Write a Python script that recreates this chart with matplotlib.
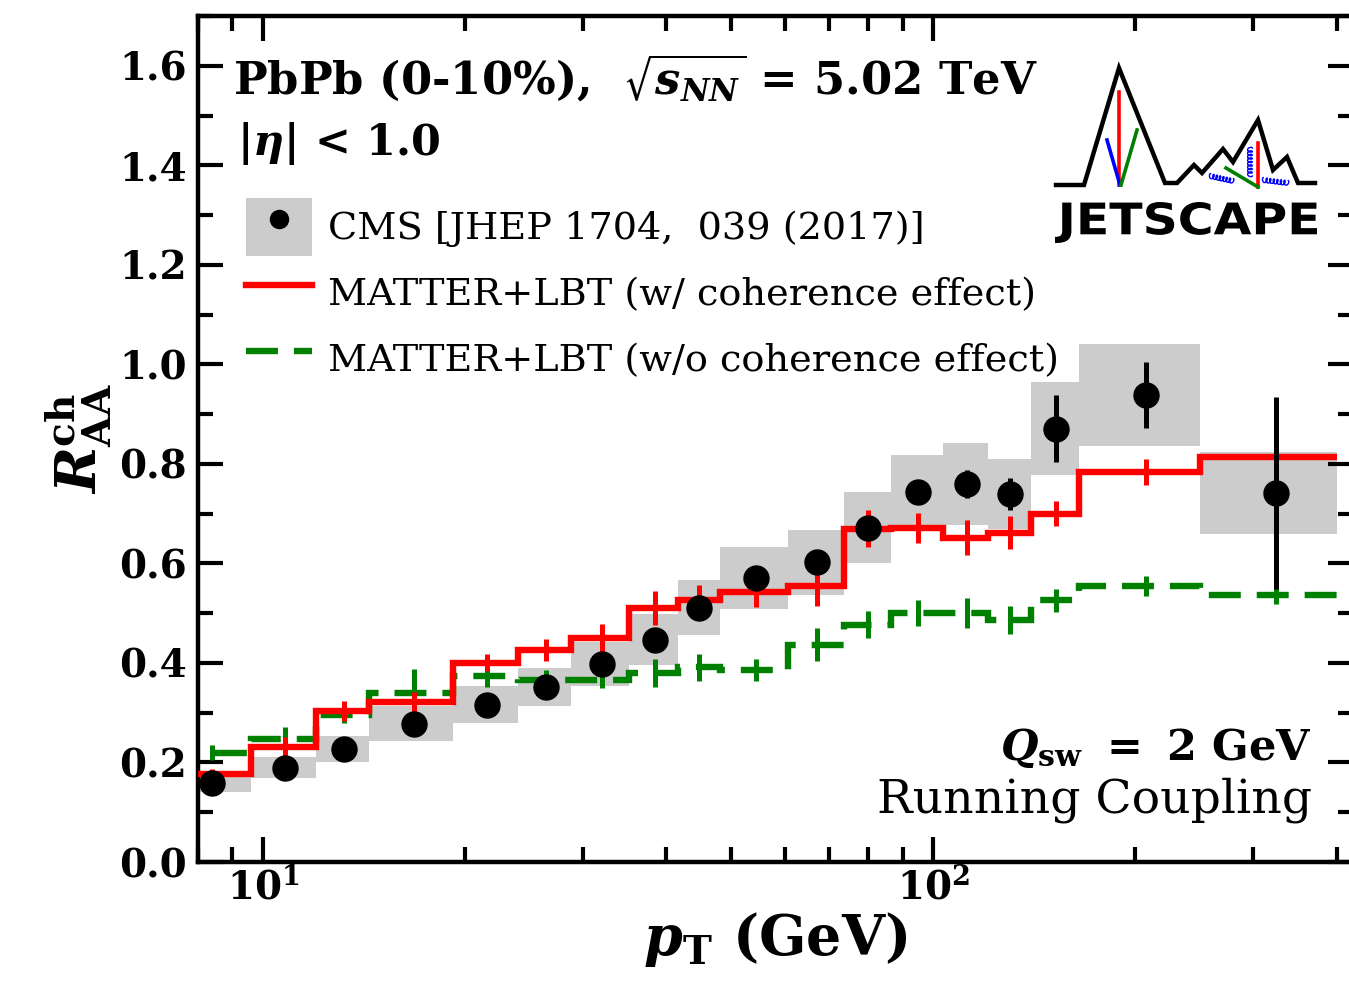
import numpy as np
import matplotlib
matplotlib.use("Agg")
import matplotlib.pyplot as plt
from matplotlib.patches import Patch, PathPatch
from matplotlib.lines import Line2D
from matplotlib.legend_handler import HandlerTuple
from matplotlib.font_manager import FontProperties
from matplotlib.textpath import TextPath
from matplotlib.transforms import Affine2D
from matplotlib.ticker import (FixedLocator, FuncFormatter, FormatStrFormatter,
                               MultipleLocator, LogLocator, NullFormatter)

plt.rcParams['font.family'] = 'DejaVu Serif'
plt.rcParams['font.weight'] = 'bold'
plt.rcParams['mathtext.fontset'] = 'dejavuserif'

# pT bins (GeV) of the CMS measurement, also used by the model curves
bin_edges = [7.2, 9.6, 12.0, 14.4, 19.2, 24.0, 28.8, 35.2, 41.6, 48.0, 60.8,
             73.6, 86.4, 103.6, 120.8, 140.0, 165.0, 250.0, 400.0]
bin_centers = [8.4, 10.8, 13.2, 16.8, 21.6, 26.4, 32.0, 38.4, 44.8, 54.4, 67.2,
               80.0, 95.0, 112.2, 130.4, 152.5, 207.5, 325.0]

# CMS charged hadron R_AA, 0-10%
cms_raa = [0.159, 0.189, 0.227, 0.278, 0.316, 0.352, 0.398, 0.447, 0.511, 0.571,
           0.602, 0.672, 0.744, 0.759, 0.740, 0.871, 0.938, 0.742]
cms_stat = [0.004, 0.004, 0.004, 0.005, 0.005, 0.005, 0.005, 0.006, 0.008, 0.010,
            0.012, 0.015, 0.018, 0.028, 0.032, 0.067, 0.066, 0.193]
cms_sys = [0.018, 0.021, 0.026, 0.035, 0.037, 0.038, 0.045, 0.052, 0.055, 0.062,
           0.066, 0.072, 0.074, 0.082, 0.070, 0.094, 0.103, 0.082]

# MATTER+LBT with coherence effect
coh_raa = [0.177, 0.232, 0.303, 0.322, 0.400, 0.426, 0.450, 0.510, 0.527, 0.543,
           0.554, 0.670, 0.671, 0.652, 0.662, 0.700, 0.783, 0.814]
coh_err = [0.010, 0.020, 0.020, 0.020, 0.017, 0.023, 0.028, 0.034, 0.030, 0.030,
           0.040, 0.037, 0.030, 0.035, 0.033, 0.025, 0.026, 0.015]

# MATTER+LBT without coherence effect
nocoh_raa = [0.220, 0.247, 0.296, 0.339, 0.373, 0.366, 0.366, 0.379, 0.391, 0.385,
             0.437, 0.477, 0.501, 0.500, 0.487, 0.526, 0.555, 0.537]
nocoh_err = [0.015, 0.025, 0.017, 0.048, 0.022, 0.020, 0.017, 0.028, 0.027, 0.022,
             0.034, 0.027, 0.026, 0.030, 0.028, 0.023, 0.020, 0.018]

labels = ['CMS [JHEP 1704,  039 (2017)]',
          'MATTER+LBT (w/ coherence effect)',
          'MATTER+LBT (w/o coherence effect)']

fig = plt.figure(figsize=(13.49, 9.88), dpi=100)
ax = fig.add_axes([198 / 1349, 126 / 988, 1155 / 1349, 846 / 988])

edges = np.array(bin_edges)
lo, hi = edges[:-1], edges[1:]
sys_arr = np.array(cms_sys)

# systematic boxes
ax.bar(lo, 2 * sys_arr, bottom=np.array(cms_raa) - sys_arr, width=hi - lo,
       align='edge', color='#cccccc', lw=0, zorder=1)

# model curves
ax.stairs(coh_raa, edges, baseline=None, color='red', lw=4.6, zorder=3)
ax.errorbar(bin_centers, coh_raa, yerr=coh_err, fmt='none', ecolor='red',
            elinewidth=3.6, zorder=3)
ax.stairs(nocoh_raa, edges, baseline=None, color='green', lw=4.6,
          linestyle=(0, (5, 2.5)), zorder=2)
ax.errorbar(bin_centers, nocoh_raa, yerr=nocoh_err, fmt='none', ecolor='green',
            elinewidth=3.6, zorder=2)

# data
ax.errorbar(bin_centers, cms_raa, yerr=cms_stat, fmt='o', color='black',
            ms=18, elinewidth=3.6, zorder=5)

ax.set_xscale('log')
ax.set_xlim(8, 423)
ax.set_ylim(0, 1.7)
ax.xaxis.set_major_locator(FixedLocator([10, 100]))
ax.xaxis.set_minor_locator(LogLocator(base=10, subs=range(2, 10)))
ax.xaxis.set_major_formatter(FuncFormatter(
    lambda v, p: r'$\mathbf{10^{%d}}$' % round(np.log10(v))))
ax.xaxis.set_minor_formatter(NullFormatter())
ax.yaxis.set_major_locator(MultipleLocator(0.2))
ax.yaxis.set_minor_locator(MultipleLocator(0.1))
ax.yaxis.set_major_formatter(FormatStrFormatter('%.1f'))
ax.tick_params(which='both', direction='in', top=True, right=True, width=3,
               labelsize=28)
ax.tick_params(which='major', length=18)
ax.tick_params(which='minor', length=11)
ax.tick_params(axis='y', pad=8)
ax.tick_params(axis='x', pad=4)
for s in ax.spines.values():
    s.set_linewidth(3.2)

ax.set_xlabel(r'$\mathbfit{p}_{\mathbf{T}}\ \mathbf{(GeV)}$', fontsize=40,
              labelpad=2)
ax.set_ylabel(r'$\mathbfit{R}^{\mathbf{ch}}_{\mathbf{AA}}$', fontsize=40,
              labelpad=4)

# legend
box_h = Patch(facecolor='#cccccc', edgecolor='none')
pt_h = Line2D([], [], marker='o', color='black', ls='none', ms=13)
red_h = Line2D([], [], color='red', lw=4.6)
green_h = Line2D([], [], color='green', lw=4.6, ls=(0, (5, 2.5)))
leg_font = FontProperties(family='DejaVu Serif', size=27.5, weight='normal')
ax.legend([(box_h, pt_h), red_h, green_h], labels, loc='upper left',
          bbox_to_anchor=(0.0416, 0.785), frameon=False, prop=leg_font,
          handler_map={tuple: HandlerTuple(ndivide=1)},
          handlelength=1.72, handleheight=1.98, handletextpad=0.42,
          labelspacing=0.2, borderpad=0, borderaxespad=0)

# annotations
ax.text(0.0303, 0.9066,
        r'PbPb (0-10%),  $\sqrt{\mathbfit{s}_{\mathbfit{NN}}}$ = 5.02 TeV',
        transform=ax.transAxes, fontsize=32.3, va='baseline')
ax.text(0.0335, 0.8357, r'$|\eta|$ < 1.0', transform=ax.transAxes,
        fontsize=31, va='baseline')
ax.text(0.9645, 0.1206, r'$\mathbfit{Q}_{\mathbf{sw}}\ \mathbf{=\ 2\ GeV}$',
        transform=ax.transAxes, fontsize=31, ha='right', va='baseline')
ax.text(0.9645, 0.0591, 'Running Coupling', transform=ax.transAxes,
        fontsize=34, weight='normal', ha='right', va='baseline')

# JETSCAPE logo (drawn in image pixel coordinates)
ov = fig.add_axes([0, 0, 1, 1], zorder=10)
ov.set_xlim(0, 1349)
ov.set_ylim(988, 0)
ov.axis('off')
ridge_x = [1056, 1084, 1119, 1165, 1177, 1194, 1202, 1223, 1233, 1258, 1273,
           1287, 1298, 1315]
ridge_y = [185, 185, 68, 183, 183, 165, 173, 149, 162, 120, 170, 157, 183, 183]
ov.plot(ridge_x, ridge_y, color='black', lw=3.2, solid_joinstyle='miter')
ov.plot([1119, 1119], [92, 185], color='red', lw=2.6)
ov.plot([1107, 1120], [140, 185], color='blue', lw=2.6)
ov.plot([1137, 1121], [130, 185], color='green', lw=2.6)
ov.plot([1258, 1258], [143, 187], color='red', lw=2.6)
ov.plot([1226, 1258], [168, 187], color='green', lw=2.6)


def coil(x0, y0, x1, y1, n, r):
    t = np.linspace(0, 1, 400)
    dx, dy = x1 - x0, y1 - y0
    L = np.hypot(dx, dy)
    ux, uy = dx / L, dy / L
    s = L * t - 0.6 * r * np.sin(2 * np.pi * n * t)
    q = r * (1 - np.cos(2 * np.pi * n * t)) - r
    ov.plot(x0 + s * ux - q * uy, y0 + s * uy + q * ux, color='blue', lw=1.0)


coil(1210, 176, 1233, 181, 7, 2.4)
coil(1250, 148, 1250, 176, 8, 2.4)
coil(1263, 180, 1288, 183, 7, 2.4)

tp = TextPath((0, 0), 'JETSCAPE', size=1,
              prop=FontProperties(family='DejaVu Sans', weight='bold'))
bb = tp.get_extents()
sx = (1317 - 1055) / bb.width
sy = (243 - 202) / bb.height
tr = Affine2D().translate(-bb.x0, -bb.y0).scale(sx, -sy).translate(1055, 243)
ov.add_patch(PathPatch(tr.transform_path(tp), color='black', lw=0))

fig.savefig('out.png', dpi=100)
